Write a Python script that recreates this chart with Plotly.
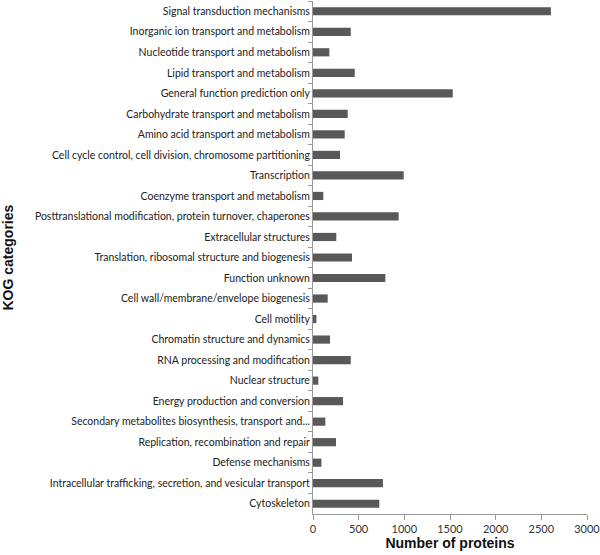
import plotly.graph_objects as go

categories = [
    "Signal transduction mechanisms",
    "Inorganic ion transport and metabolism",
    "Nucleotide transport and metabolism",
    "Lipid transport and metabolism",
    "General function prediction only",
    "Carbohydrate transport and metabolism",
    "Amino acid transport and metabolism",
    "Cell cycle control, cell division, chromosome partitioning",
    "Transcription",
    "Coenzyme transport and metabolism",
    "Posttranslational modification, protein turnover, chaperones",
    "Extracellular structures",
    "Translation, ribosomal structure and biogenesis",
    "Function unknown",
    "Cell wall/membrane/envelope biogenesis",
    "Cell motility",
    "Chromatin structure and dynamics",
    "RNA processing and modification",
    "Nuclear structure",
    "Energy production and conversion",
    "Secondary metabolites biosynthesis, transport and...",
    "Replication, recombination and repair",
    "Defense mechanisms",
    "Intracellular trafficking, secretion, and vesicular transport",
    "Cytoskeleton",
]
proteins = [2605, 413, 179, 457, 1530, 380, 347, 296, 993, 113, 938, 255,
            427, 792, 161, 37, 186, 413, 58, 329, 135, 252, 92, 766, 726]
x_ticks = [0, 500, 1000, 1500, 2000, 2500, 3000]

fig = go.Figure(go.Bar(
    x=proteins, y=categories, orientation="h",
    marker=dict(color="#595959", line=dict(width=0)),
))

fig.update_layout(
    width=600, height=555,
    margin=dict(l=313, r=13, t=1, b=41),
    plot_bgcolor="white", paper_bgcolor="white",
    bargap=0.6, showlegend=False,
    font=dict(family="Lato", color="#222222"),
)
fig.update_xaxes(
    range=[0, 3000], tickvals=x_ticks, ticktext=[str(v) for v in x_ticks],
    ticks="outside", ticklen=5, automargin=False, ticklabeloverflow="allow",
    tickcolor="#999999", showline=True, linecolor="#999999", linewidth=1,
    showgrid=False, zeroline=False,
    tickfont=dict(size=11, color="#333333", family="Lato"),
    title=dict(text="<b>Number of proteins</b>", font=dict(size=14, family="Liberation Sans", color="#111111"), standoff=2),
)
fig.update_yaxes(
    autorange="reversed", ticks="outside", ticklen=4, tickson="boundaries",
    automargin=False,
    tickcolor="#999999", showline=True, linecolor="#999999", linewidth=1,
    showgrid=False, tickfont=dict(size=10.5, color="#222222", family="Lato"),
)
fig.add_annotation(
    text="<b>KOG categories</b>", xref="paper", yref="paper",
    x=-313 / 274, y=0.5, xanchor="left", yanchor="middle", xshift=-3,
    textangle=-90, showarrow=False,
    font=dict(size=14, family="Liberation Sans", color="#111111"),
)

fig.write_html("out.html", config={"displayModeBar": False},
               post_script="document.body.style.margin='0';")
